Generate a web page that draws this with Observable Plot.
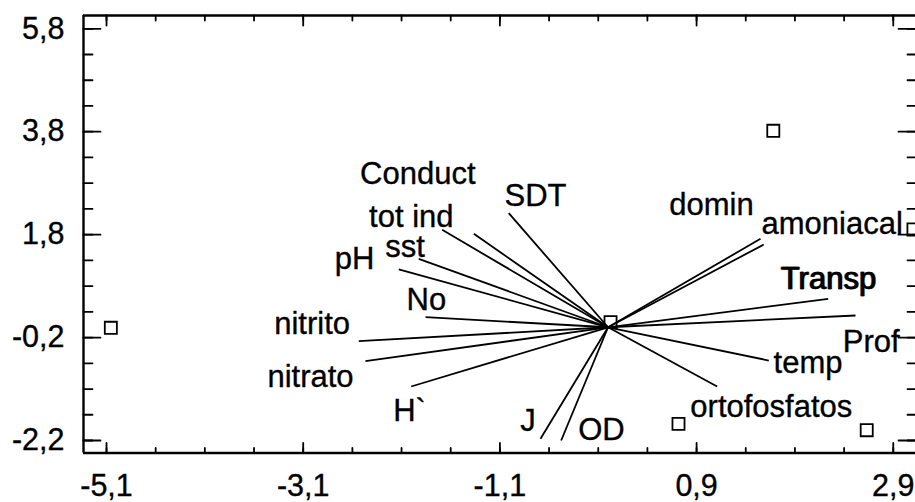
<!DOCTYPE html>
<html>
<head>
<meta charset="utf-8">
<script src="https://cdn.jsdelivr.net/npm/d3@7"></script>
<script src="https://cdn.jsdelivr.net/npm/@observablehq/plot@0.6"></script>
<style>
  html, body { margin: 0; padding: 0; background: #fff; overflow: hidden; }
  #chart svg { display: block; }
</style>
</head>
<body>
<div id="chart"></div>
<script>
// ---- Data ----
const varNames = ["Conduct", "tot ind", "SDT", "sst", "pH", "No", "nitrito", "nitrato", "H`", "J", "OD",
                  "domin", "amoniacal", "Transp", "Prof", "temp", "ortofosfatos"];
const varX = [-1.365, -1.687, -1.010, -1.925, -2.128, -1.856, -2.535, -2.467, -2.002, -0.687, -0.477,
              1.550, 1.583, 2.238, 2.516, 1.634, 1.109];
const varY = [1.816, 1.894, 2.217, 1.330, 1.123, 0.196, -0.271, -0.659, -1.151, -2.167, -2.200,
              1.719, 1.608, 0.553, 0.229, -0.646, -1.151];
const labelX = [-1.935, -2.001, -0.738, -2.065, -2.578, -1.848, -3.009, -3.026, -2.019, -0.814, -0.067,
                1.051, 2.279, 2.236, 2.676, 2.033, 1.660];
const labelY = [2.788, 1.945, 2.366, 1.362, 1.123, 0.345, -0.127, -1.161, -1.822, -2.006, -2.191,
                2.172, 1.816, 0.734, -0.490, -0.879, -1.748];

const pointX = [-5.056, 1.680, 0.716, 2.630, 0.025, 3.105];
const pointY = [-0.010, 3.818, -1.876, -2.000, 0.099, 1.900];

const xTickValues = [-5.1, -3.1, -1.1, 0.9, 2.9];
const xTickLabels = ["-5,1", "-3,1", "-1,1", "0,9", "2,9"];
const yTickValues = [5.8, 3.8, 1.8, -0.2, -2.2];
const yTickLabels = ["5,8", "3,8", "1,8", "-0,2", "-2,2"];
const xMinorValues = d3.range(-5.1, 2.95, 0.5);
const yMinorValues = d3.range(-2.2, 5.85, 0.5);

const xDomain = [-5.334, 3.126];
const yDomain = [-2.443, 6.058];

// ---- Build tables ----
const vars = varNames.map((name, i) => ({name, x: varX[i], y: varY[i], lx: labelX[i], ly: labelY[i]}));
const points = pointX.map((x, i) => ({x, y: pointY[i]}));
const xTicks = xTickValues.map((v, i) => ({v, label: xTickLabels[i]}));
const yTicks = yTickValues.map((v, i) => ({v, label: yTickLabels[i]}));

const tickShape = {draw(context, length) { context.moveTo(0, 0); context.lineTo(0, -length); }};
const font = "Liberation Sans, Arial, sans-serif";
const textStyle = {fill: "black", stroke: "black", strokeWidth: 0.35};

function ticks(data, opts) {
  return Plot.vector(data, {anchor: "start", shape: tickShape, stroke: "black", strokeWidth: 1.8, ...opts});
}

const chart = Plot.plot({
  width: 915,
  height: 502,
  marginLeft: 83,
  marginRight: 0,
  marginTop: 15,
  marginBottom: 49.5,
  style: {fontFamily: font, background: "white", color: "black"},
  x: {domain: xDomain, axis: null},
  y: {domain: yDomain, axis: null},
  marks: [
    // frame (left, top, bottom)
    Plot.ruleX([xDomain[0]], {stroke: "black", strokeWidth: 2.4}),
    Plot.ruleY([yDomain[0], yDomain[1]], {stroke: "black", strokeWidth: 2.4}),
    // bottom ticks (inward)
    ticks(xMinorValues, {x: d => d, y: yDomain[0], rotate: 0, length: 5}),
    ticks(xTickValues, {x: d => d, y: yDomain[0], rotate: 0, length: 10}),
    // top ticks
    ticks(xMinorValues, {x: d => d, y: yDomain[1], rotate: 180, length: 5}),
    ticks(xTickValues, {x: d => d, y: yDomain[1], rotate: 180, length: 10}),
    // left ticks
    ticks(yMinorValues, {x: xDomain[0], y: d => d, rotate: 90, length: 9}),
    ticks(yTickValues, {x: xDomain[0], y: d => d, rotate: 90, length: 17}),
    // right ticks
    ticks(yMinorValues, {x: xDomain[1], y: d => d, rotate: -90, length: 8}),
    ticks(yTickValues, {x: xDomain[1], y: d => d, rotate: -90, length: 17}),
    // tick labels
    Plot.text(xTicks, {x: "v", y: yDomain[0], text: "label", dy: 42.5, lineAnchor: "bottom",
                       textAnchor: "middle", fontSize: 30.5, ...textStyle}),
    Plot.text(yTicks, {x: xDomain[0], y: "v", text: "label", dx: -19, lineAnchor: "middle",
                       textAnchor: "end", fontSize: 30.5, ...textStyle}),
    // biplot vectors
    Plot.link(vars, {x1: 0, y1: 0, x2: "x", y2: "y", stroke: "black", strokeWidth: 1.8}),
    // observation points
    Plot.dot(points, {x: "x", y: "y", symbol: "square", r: 6.8, stroke: "black", strokeWidth: 1.8, fill: "none"}),
    // variable labels
    Plot.text(vars, {x: "lx", y: "ly", text: "name", lineAnchor: "bottom", textAnchor: "middle",
                     fontSize: 31, ...textStyle}),
    Plot.text(vars.filter(d => d.name === "Transp"), {x: "lx", y: "ly", text: "name", dx: 1,
                     lineAnchor: "bottom", textAnchor: "middle", fontSize: 31, ...textStyle})
  ]
});

document.getElementById("chart").appendChild(chart);
</script>
</body>
</html>
